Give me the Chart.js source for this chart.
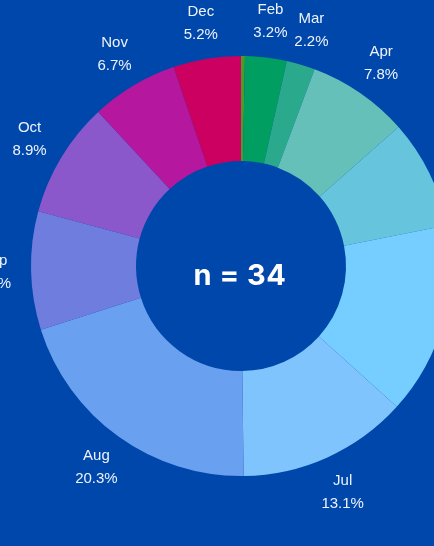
<!DOCTYPE html>
<html>
<head>
<meta charset="utf-8">
<script src="https://cdn.jsdelivr.net/npm/chart.js@4"></script>
<style>
    html, body { margin: 0; padding: 0; background: #0047ab; overflow: hidden; width: 434px; height: 546px; }
    #wrap { position: absolute; left: 0; top: 0; width: 482px; height: 532px; }
</style>
</head>
<body>
<div id="wrap"><canvas id="monthChart"></canvas></div>
<script>
// Datos del gráfico
const months = ['Jan', 'Feb', 'Mar', 'Apr', 'May', 'Jun', 'Jul', 'Aug', 'Sep', 'Oct', 'Nov', 'Dec'];
const shares = [0.3, 3.2, 2.2, 7.8, 8.4, 14.8, 13.1, 20.3, 9.1, 8.9, 6.7, 5.2];
const sliceColors = ['#4c9a2a', '#009e60', '#2aa98c', '#66c0ba', '#66c5dd', '#76cdff',
                     '#80c4fe', '#69a0f0', '#6f7ddf', '#8b58cc', '#b5179e', '#cc0060'];
const sampleSize = 34;

/**
 * Etiquetas fuera de cada porción (mes + porcentaje)
 */
const outerLabels = {
    id: 'outerLabels',
    afterDatasetsDraw(chart) {
        const ctx = chart.ctx;
        const meta = chart.getDatasetMeta(0);
        ctx.save();
        ctx.fillStyle = '#eef3fb';
        ctx.font = '15px "Liberation Sans", Arial, sans-serif';
        ctx.textAlign = 'center';
        ctx.textBaseline = 'middle';
        meta.data.forEach((arc, i) => {
            if (shares[i] < 1) return;
            const p = arc.getProps(['x', 'y', 'startAngle', 'endAngle', 'outerRadius'], true);
            const mid = (p.startAngle + p.endAngle) / 2;
            const r = p.outerRadius + 37;
            const x = p.x + Math.cos(mid) * r;
            const y = p.y + Math.sin(mid) * r + 1;
            ctx.fillText(months[i], x, y - 11.5);
            ctx.fillText(shares[i].toFixed(1) + '%', x, y + 11.5);
        });
        ctx.restore();
    }
};

/**
 * Texto central "n = 34"
 */
const centerText = {
    id: 'centerText',
    afterDatasetsDraw(chart) {
        const arc = chart.getDatasetMeta(0).data[0];
        if (!arc) return;
        const ctx = chart.ctx;
        ctx.save();
        ctx.fillStyle = '#ffffff';
        ctx.font = 'bold 29px Inter, "Open Sans", sans-serif';
        ctx.letterSpacing = '0.5px';
        ctx.textAlign = 'center';
        ctx.textBaseline = 'middle';
        ctx.fillText('n = ' + sampleSize, arc.x - 1, arc.y + 10);
        ctx.restore();
    }
};

new Chart(document.getElementById('monthChart'), {
    type: 'doughnut',
    data: {
        labels: months,
        datasets: [{
            data: shares,
            backgroundColor: sliceColors,
            borderWidth: 0,
        }],
    },
    options: {
        responsive: true,
        maintainAspectRatio: false,
        animation: false,
        cutout: '50%',
        layout: {
            padding: { left: 31, right: 31, top: 56, bottom: 56 },
        },
        plugins: {
            legend: { display: false },
            tooltip: { enabled: false },
        },
    },
    plugins: [outerLabels, centerText],
});
</script>
</body>
</html>
